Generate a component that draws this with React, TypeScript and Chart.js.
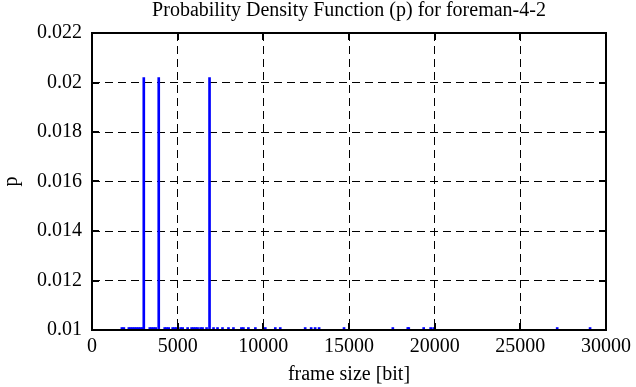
import React, { useEffect, useRef } from "react";
import { Chart, registerables } from "chart.js";

Chart.register(...registerables);

const titleText = "Probability Density Function (p) for foreman-4-2";
const xAxisLabel = "frame size [bit]";
const yAxisLabel = "p";

const frameSizes = [
  1744, 1860, 2151, 2267, 2384, 2500, 2616, 2733, 2849, 2965, 3023,
  3372, 3488, 3605, 3721, 3895, 4244, 4360, 4477, 4709, 4826, 4942,
  5174, 5291, 5581, 5814, 5930, 6047, 6163, 6337, 6453, 6686, 6860,
  7093, 7326, 7616, 7965, 8256, 8721, 8837, 9128, 9535, 10116, 10698,
  10988, 12442, 12791, 13023, 13256, 14709, 17558, 18430, 18488, 19360,
  19767, 19942, 27151, 29070,
];
const pValues = [
  0.0101, 0.0101, 0.0101, 0.0101, 0.0101, 0.0101, 0.0101, 0.0101, 0.0101, 0.0101, 0.0202,
  0.0101, 0.0101, 0.0101, 0.0101, 0.0202, 0.0101, 0.0101, 0.0101, 0.0101, 0.0101, 0.0101,
  0.0101, 0.0101, 0.0101, 0.0101, 0.0101, 0.0101, 0.0101, 0.0101, 0.0101, 0.0101, 0.0202,
  0.0101, 0.0101, 0.0101, 0.0101, 0.0101, 0.0101, 0.0101, 0.0101, 0.0101, 0.0101, 0.0101,
  0.0101, 0.0101, 0.0101, 0.0101, 0.0101, 0.0101, 0.0101, 0.0101, 0.0101, 0.0101,
  0.0101, 0.0101, 0.0101, 0.0101,
];

const xMin = 0;
const xMax = 30000;
const xStep = 5000;
const yMin = 0.01;
const yMax = 0.022;
const yStep = 0.002;

const FONT = "'Liberation Serif', 'Times New Roman', serif";
const FS = 20;

const framePlugin = {
  id: "frameAndTitle",
  afterDatasetsDraw(chart: any) {
    const { ctx, chartArea, scales } = chart;
    const { left, right, top, bottom } = chartArea;
    ctx.save();
    ctx.strokeStyle = "#000";
    ctx.lineWidth = 2;
    ctx.setLineDash([]);
    ctx.strokeRect(left, top, right - left, bottom - top);
    const tl = 7;
    ctx.beginPath();
    scales.x.ticks.forEach((t: any) => {
      const px = Math.round(scales.x.getPixelForValue(t.value));
      ctx.moveTo(px, bottom);
      ctx.lineTo(px, bottom - tl);
      ctx.moveTo(px, top);
      ctx.lineTo(px, top + tl);
    });
    scales.y.ticks.forEach((t: any) => {
      const py = Math.round(scales.y.getPixelForValue(t.value));
      ctx.moveTo(left, py);
      ctx.lineTo(left + tl, py);
      ctx.moveTo(right, py);
      ctx.lineTo(right - tl, py);
    });
    ctx.stroke();
    ctx.fillStyle = "#000";
    ctx.font = `${FS}px ${FONT}`;
    ctx.textAlign = "center";
    ctx.textBaseline = "middle";
    ctx.fillText(titleText, (left + right) / 2, 11);
    ctx.restore();
  },
};

export default function App() {
  const ref = useRef<HTMLCanvasElement | null>(null);
  useEffect(() => {
    if (!ref.current) return;
    const chart = new Chart(ref.current, {
      type: "bar",
      data: {
        datasets: [
          {
            data: frameSizes.map((s, i) => ({ x: s, y: pValues[i] })),
            backgroundColor: "#0000ff",
            borderWidth: 0,
            barThickness: 2,
          },
        ],
      },
      options: {
        responsive: false,
        animation: false,
        layout: { padding: { top: 33, right: 28, left: 0, bottom: 0 } },
        plugins: {
          legend: { display: false },
          title: { display: false },
          tooltip: { enabled: false },
        },
        scales: {
          x: {
            type: "linear",
            min: xMin,
            max: xMax,
            offset: false,
            afterFit(scale: any) {
              scale.height = 57;
            },
            grid: {
              offset: false,
              color: "#000",
              lineWidth: 1,
              drawTicks: false,
            },
            border: { display: false, dash: [8, 5] },
            ticks: {
              stepSize: xStep,
              padding: 5,
              color: "#000",
              font: { family: FONT, size: FS },
              maxRotation: 0,
              callback: (v: any) => String(v),
            },
            title: {
              display: true,
              text: xAxisLabel,
              color: "#000",
              font: { family: FONT, size: FS },
              padding: 0,
            },
          },
          y: {
            type: "linear",
            min: yMin,
            max: yMax,
            afterFit(scale: any) {
              scale.width = 92;
            },
            grid: {
              color: "#000",
              lineWidth: 1,
              drawTicks: false,
            },
            border: { display: false, dash: [8, 5] },
            ticks: {
              stepSize: yStep,
              padding: 10,
              color: "#000",
              font: { family: FONT, size: FS },
              callback: (v: any) => String(parseFloat(Number(v).toFixed(4))),
            },
            title: {
              display: true,
              text: yAxisLabel,
              color: "#000",
              font: { family: FONT, size: FS },
              padding: 0,
            },
          },
        },
      },
      plugins: [framePlugin],
    });
    return () => chart.destroy();
  }, []);
  return (
    <div style={{ position: "absolute", left: 0, top: 0, width: 636, height: 387, background: "#fff" }}>
      <canvas ref={ref} width={636} height={387} />
    </div>
  );
}
